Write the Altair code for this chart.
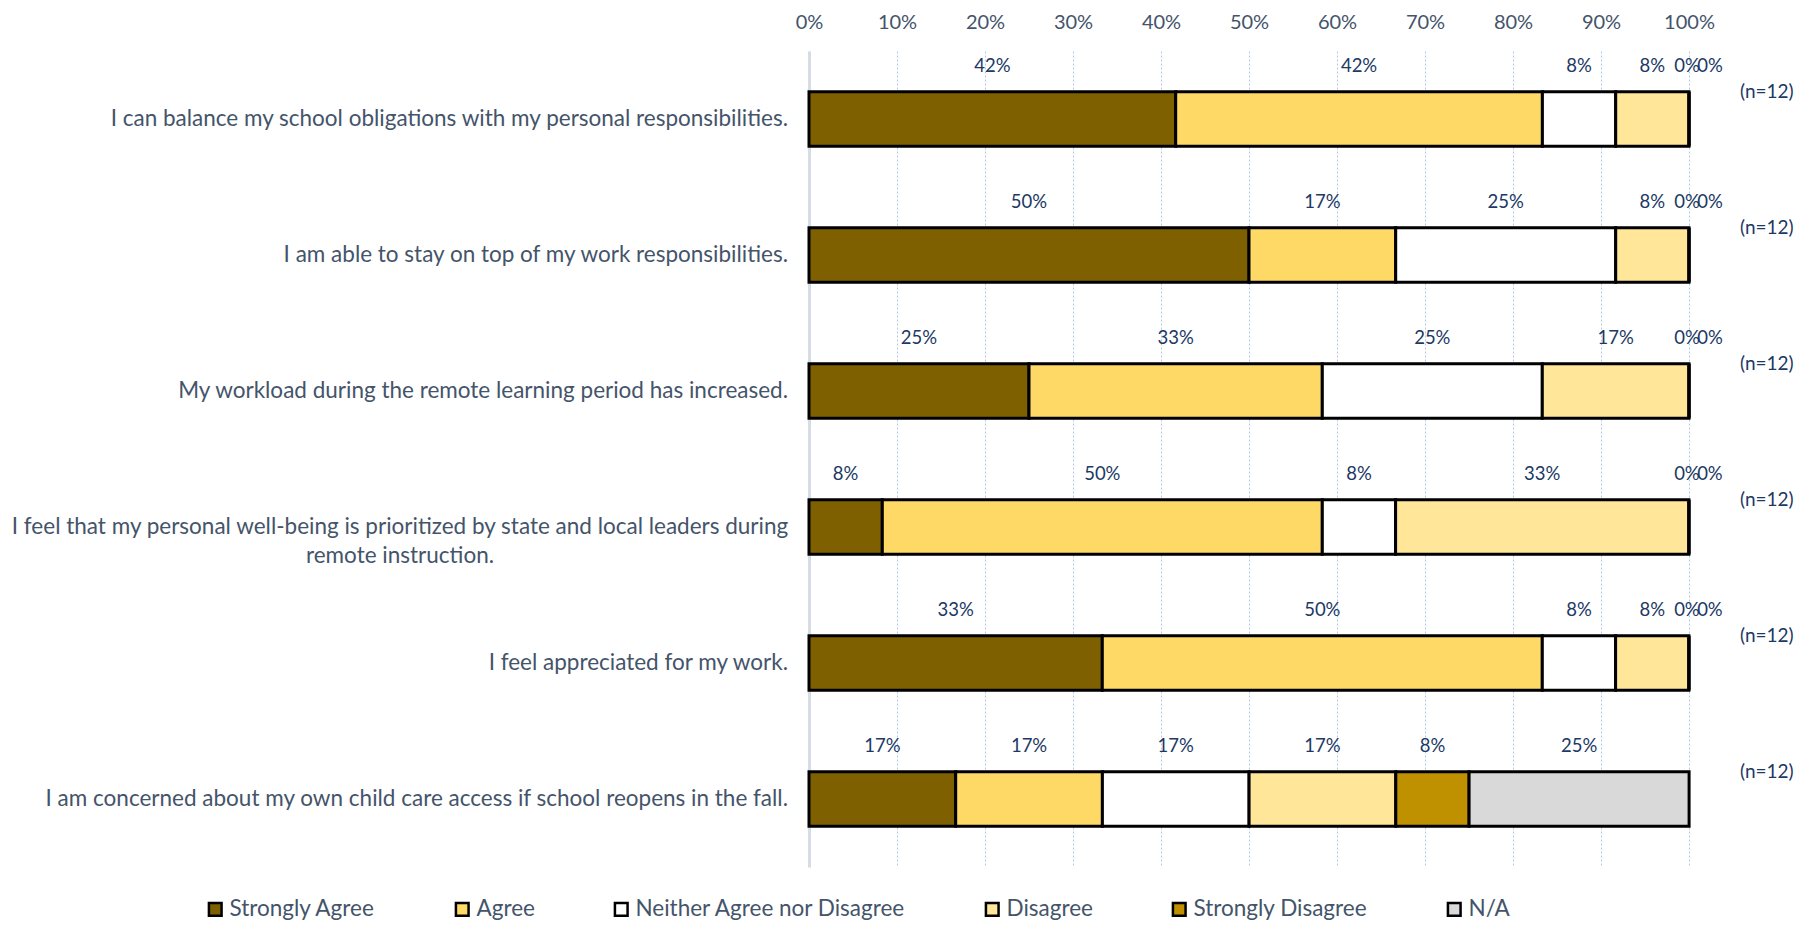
import altair as alt
import pandas as pd

FONT = "Lato"

questions = [
    "I can balance my school obligations with my personal responsibilities.",
    "I am able to stay on top of my work responsibilities.",
    "My workload during the remote learning period has increased.",
    "I feel that my personal well-being is prioritized by state and local leaders during remote instruction.",
    "I feel appreciated for my work.",
    "I am concerned about my own child care access if school reopens in the fall.",
]
label_line1 = [
    "I can balance my school obligations with my personal responsibilities.",
    "I am able to stay on top of my work responsibilities.",
    "My workload during the remote learning period has increased.",
    "I feel that my personal well-being is prioritized by state and local leaders during",
    "I feel appreciated for my work.",
    "I am concerned about my own child care access if school reopens in the fall.",
]
label_line2 = ["", "", "", "remote instruction.", "", ""]

categories = ["Strongly Agree", "Agree", "Neither Agree nor Disagree",
              "Disagree", "Strongly Disagree", "N/A"]
colors = ["#7f6000", "#ffd966", "#ffffff", "#ffe699", "#bf9000", "#d9d9d9"]

strongly_agree = [41.67, 50.0, 25.0, 8.33, 33.33, 16.67]
agree = [41.67, 16.67, 33.33, 50.0, 50.0, 16.67]
neither = [8.33, 25.0, 25.0, 8.33, 8.33, 16.67]
disagree = [8.33, 8.33, 16.67, 33.33, 8.33, 16.67]
strongly_disagree = [0, 0, 0, 0, 0, 8.33]
not_applicable = [0, 0, 0, 0, 0, 25.0]
n_resp = [12, 12, 12, 12, 12, 12]

x_ticks = [0, 10, 20, 30, 40, 50, 60, 70, 80, 90, 100]

series = [strongly_agree, agree, neither, disagree, strongly_disagree, not_applicable]
rows = []
for qi, q in enumerate(questions):
    for ci, cat in enumerate(categories):
        rows.append({"question": q, "category": cat, "order": ci, "value": series[ci][qi]})
df = pd.DataFrame(rows)

lab_df = pd.DataFrame({
    "question": questions,
    "line1": label_line1,
    "line2": label_line2,
    "n": n_resp,
})

y_enc = alt.Y("question:N", sort=questions, title=None,
              scale=alt.Scale(paddingInner=0.6, paddingOuter=0.3))

base = alt.Chart(df).transform_stack(
    stack="value", groupby=["question"], sort=[alt.SortField("order")], as_=["x0", "x1"]
)

bars = base.mark_bar(stroke="black", strokeWidth=3).encode(
    x=alt.X("x0:Q", title=None, scale=alt.Scale(domain=[0, 100], nice=False),
            axis=alt.Axis(orient="top", values=x_ticks, labelExpr="datum.value + '%'")),
    x2="x1:Q",
    y=y_enc,
    fill=alt.Color(
        "category:N",
        scale=alt.Scale(domain=categories, range=colors),
        legend=alt.Legend(
            orient="none", legendX=-605, legendY=847, direction="horizontal",
            columns=6, columnPadding=74, symbolType="square", symbolSize=160,
            symbolStrokeColor="black", symbolStrokeWidth=2.5, labelFontSize=22.5,
            labelFont=FONT, labelColor="#44546a", labelOffset=3, title=None,
            labelLimit=0,
        ),
    ),
)

lbl_base = base.transform_calculate(
    mid="(datum.x0 + datum.x1) / 2",
    lbl="format(datum.value, '.0f') + '%'",
)
txt_kw = dict(dy=-53, fontSize=18.5, font=FONT, color="#203864")
main_lbl = lbl_base.transform_filter("datum.value > 0").mark_text(**txt_kw).encode(
    x=alt.X("mid:Q", title=None), y=y_enc, text="lbl:N")
zero_sd = lbl_base.transform_filter(
    "datum.value == 0 && datum.category == 'Strongly Disagree'"
).mark_text(dx=-2, **txt_kw).encode(x=alt.X("mid:Q", title=None), y=y_enc, text="lbl:N")
zero_na = lbl_base.transform_filter(
    "datum.value == 0 && datum.category == 'N/A'"
).mark_text(dx=21, **txt_kw).encode(x=alt.X("mid:Q", title=None), y=y_enc, text="lbl:N")

lab_base = alt.Chart(lab_df)
ylab_single = lab_base.transform_filter("datum.line2 == ''").mark_text(
    align="right", dx=-21, fontSize=22.5, font=FONT, color="#44546a"
).encode(x=alt.datum(0), y=y_enc, text="line1:N")
ylab_wrap = lab_base.transform_filter("datum.line2 != ''").transform_calculate(
    lines="[datum.line1, datum.line2]"
).mark_text(
    align="center", dx=-409, fontSize=22.5, font=FONT, color="#44546a", lineHeight=29
).encode(x=alt.datum(0), y=y_enc, text="lines:N")

n_lbl = lab_base.transform_calculate(ntext="'(n=' + datum.n + ')'").mark_text(
    align="left", dx=51, dy=-27, fontSize=19, font=FONT, color="#203864"
).encode(x=alt.datum(100), y=y_enc, text="ntext:N")

chart = alt.layer(bars, main_lbl, zero_sd, zero_na, ylab_single, ylab_wrap, n_lbl).properties(
    width=880, height=816, autosize="none",
    padding={"left": 801, "top": 43, "right": 119, "bottom": 60},
).configure_view(stroke=None).configure_axisX(
    domain=False, ticks=False, labelPadding=19, labelFontSize=20, labelFont=FONT,
    labelColor="#44546a", labelFlush=False, grid=True, gridColor="#b4c7e7",
    gridDash=[2, 2], gridWidth=1,
).configure_axisY(
    labels=False, ticks=False, grid=False, domain=True, domainColor="#d6dce5", domainWidth=3,
)

chart.save("out.html", embed_options={"renderer": "svg", "actions": False})
